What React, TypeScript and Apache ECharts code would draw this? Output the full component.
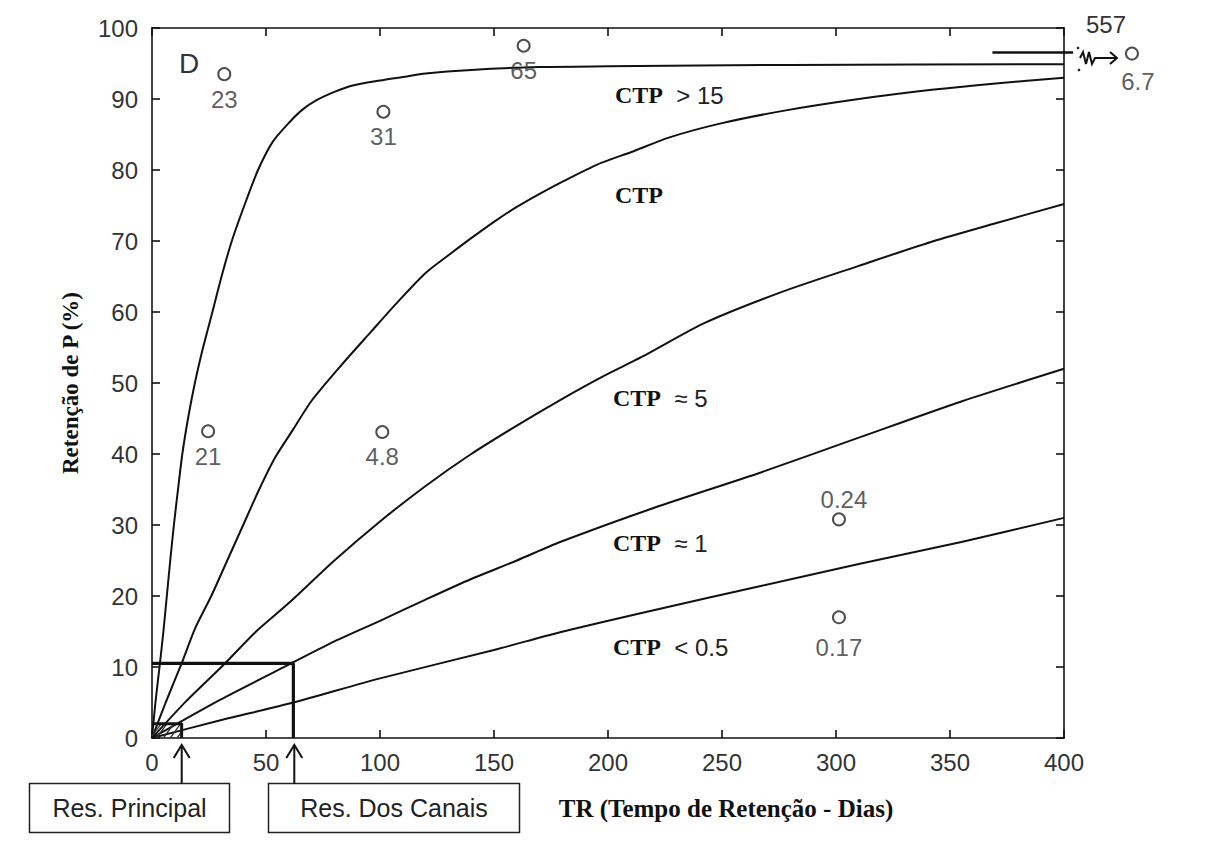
import React, { useEffect, useRef } from "react";
import * as echarts from "echarts";

// ---- Data ----
const xTickValues = [0, 50, 100, 150, 200, 250, 300, 350, 400];
const yTickValues = [0, 10, 20, 30, 40, 50, 60, 70, 80, 90, 100];

const curveCtpGt15 = [
  [0, 0], [1.5, 5], [3.3, 10], [5, 15], [6.5, 20], [8, 25], [9.6, 30], [11.4, 35], [13.3, 40],
  [15.8, 45], [18.8, 50], [22.4, 55], [26.5, 60], [30.5, 65], [35, 70], [40.5, 75], [46.5, 80],
  [53, 84], [60.5, 86.8], [66, 88.5], [72, 89.8], [80, 91], [88, 91.9], [100, 92.6], [110, 93.1],
  [120, 93.6], [140, 94.1], [170, 94.5], [200, 94.6], [280, 94.8], [400, 94.9],
];
const curveCtp = [
  [0, 0], [6, 5], [13, 10.5], [19, 15.5], [26, 20], [33, 25], [40, 30], [47, 35], [54, 39.5],
  [62, 43.5], [70, 47.5], [83, 52.5], [96, 57.2], [108, 61.5], [120, 65.5], [130, 68], [140, 70.4],
  [150, 72.7], [160, 74.8], [172, 77], [184, 79], [197, 81], [210, 82.5], [227, 84.6], [250, 86.6],
  [278, 88.4], [310, 90], [342, 91.3], [370, 92.2], [400, 93],
];
const curveCtp5 = [
  [0, 0], [15, 5.2], [32, 10.5], [45, 14.8], [60, 19], [80, 25], [100, 30.5], [120, 35.5],
  [140, 40], [160, 44], [179, 47.6], [197, 50.8], [215, 53.7], [242, 58.4], [276, 62.8],
  [310, 66.5], [342, 69.9], [370, 72.5], [400, 75.2],
];
const curveCtp1 = [
  [0, 0], [30, 5.4], [61, 10.5], [80, 13.6], [100, 16.5], [120, 19.5], [140, 22.4], [160, 25],
  [179, 27.6], [220, 32.4], [267, 37.4], [310, 42.3], [355, 47.4], [400, 52],
];
const curveCtp05 = [
  [0, 0], [30, 2.5], [62, 5], [100, 8.4], [150, 12.4], [179, 14.9], [220, 18], [267, 21.4],
  [310, 24.5], [355, 27.6], [400, 31],
];

const pointX = [31.7, 101.5, 163, 24.6, 101, 301.3, 301.3, 429.8];
const pointY = [93.5, 88.2, 97.5, 43.2, 43.1, 30.8, 17.0, 96.4];
const pointLabels = ["23", "31", "65", "21", "4.8", "0.24", "0.17", "6.7"];
const pointLabelAbove = [false, false, false, false, false, true, false, false];

// reservoir boxes (x = retention time in days, y = retention %)
const canaisBox = [[0, 10.5], [62, 10.5], [62, 0]];
const principalBox = [[0, 2], [13, 2], [13, 0]];
const principalHatch = [
  [[0, 0.3], [4, 2]], [[2, 0], [6.5, 2]], [[5, 0], [9.5, 2]], [[8, 0], [12.5, 2]], [[11, 0], [13, 0.9]],
];
const arrowLine = [[368.6, 96.6], [404, 96.6]];

const SANS = '"Liberation Sans", Arial, Helvetica, sans-serif';
const SERIF = '"Liberation Serif", "Times New Roman", Times, serif';

export default function App() {
  const ref = useRef<HTMLDivElement>(null);

  useEffect(() => {
    if (!ref.current) return;
    const chart = echarts.init(ref.current, undefined, { renderer: "svg" });

    const axisLineStyle = { color: "#111", width: 1.6 };
    const curveStyle = { color: "#111", width: 2 };

    const curveSeries = (name: string, data: number[][]) => ({
      type: "line",
      name,
      data,
      smooth: 0.25,
      showSymbol: false,
      symbol: "none",
      silent: true,
      lineStyle: curveStyle,
      z: 3,
    });

    const scatterData = pointX.map((x, i) => ({
      value: [x, pointY[i]],
      label: {
        show: true,
        formatter: pointLabels[i],
        position: pointLabelAbove[i] ? "top" : "bottom",
        distance: pointLabelAbove[i] ? 1 : i === 6 ? 11 : i === 7 ? 9 : 6,
        offset: i === 7 ? [6, 0] : i === 5 ? [5, 0] : [0, 0],
        color: "#333",
        fontSize: 24,
        fontFamily: SANS,
      },
    }));

    const ctpLabel = (x: number, y: number, rest: string) => ({
      type: "text",
      x,
      y,
      silent: true,
      style: {
        text: rest ? `{a|CTP}{b|  ${rest}}` : "{a|CTP}",
        verticalAlign: "middle",
        align: "left",
        rich: {
          a: { fontFamily: SERIF, fontWeight: "bold", fontSize: 24, fill: "#111" },
          b: { fontFamily: SANS, fontSize: 24, fill: "#222" },
        },
      },
    });

    const upArrow = (x: number) => ({
      type: "group",
      children: [
        { type: "line", shape: { x1: x, y1: 784, x2: x, y2: 746 }, style: { stroke: "#111", lineWidth: 2 } },
        {
          type: "polyline",
          shape: { points: [[x - 8, 758], [x, 745], [x + 8, 758]] },
          style: { stroke: "#111", lineWidth: 2, fill: null },
        },
      ],
    });

    const option: any = {
      animation: false,
      backgroundColor: "#ffffff",
      grid: { left: 152, right: 151, top: 28, bottom: 129 },
      xAxis: [
        {
          type: "value",
          min: xTickValues[0],
          max: xTickValues[xTickValues.length - 1],
          interval: xTickValues[1] - xTickValues[0],
          axisLine: { show: true, onZero: false, lineStyle: axisLineStyle },
          axisTick: { show: true, inside: true, length: 8, lineStyle: axisLineStyle },
          axisLabel: { color: "#333", fontSize: 24, fontFamily: SANS, margin: 12 },
          splitLine: { show: false },
        },
        {
          type: "value",
          position: "top",
          min: xTickValues[0],
          max: xTickValues[xTickValues.length - 1],
          interval: xTickValues[1] - xTickValues[0],
          axisLine: { show: true, onZero: false, lineStyle: axisLineStyle },
          axisTick: { show: true, inside: true, length: 8, lineStyle: axisLineStyle },
          axisLabel: { show: false },
          splitLine: { show: false },
        },
      ],
      yAxis: [
        {
          type: "value",
          min: yTickValues[0],
          max: yTickValues[yTickValues.length - 1],
          interval: yTickValues[1] - yTickValues[0],
          axisLine: { show: true, onZero: false, lineStyle: axisLineStyle },
          axisTick: { show: true, inside: true, length: 8, lineStyle: axisLineStyle },
          axisLabel: { color: "#333", fontSize: 24, fontFamily: SANS, margin: 14 },
          splitLine: { show: false },
        },
        {
          type: "value",
          position: "right",
          min: yTickValues[0],
          max: yTickValues[yTickValues.length - 1],
          interval: yTickValues[1] - yTickValues[0],
          axisLine: { show: true, onZero: false, lineStyle: axisLineStyle },
          axisTick: { show: true, inside: true, length: 8, lineStyle: axisLineStyle },
          axisLabel: { show: false },
          splitLine: { show: false },
        },
      ],
      series: [
        curveSeries("CTP > 15", curveCtpGt15),
        curveSeries("CTP", curveCtp),
        curveSeries("CTP ≈ 5", curveCtp5),
        curveSeries("CTP ≈ 1", curveCtp1),
        curveSeries("CTP < 0.5", curveCtp05),
        {
          type: "line",
          name: "Res. Dos Canais",
          data: canaisBox,
          showSymbol: false,
          symbol: "none",
          silent: true,
          lineStyle: { color: "#111", width: 3.2 },
          z: 4,
        },
        {
          type: "line",
          name: "Res. Principal",
          data: principalBox,
          showSymbol: false,
          symbol: "none",
          silent: true,
          lineStyle: { color: "#111", width: 3 },
          z: 4,
        },
        {
          type: "lines",
          coordinateSystem: "cartesian2d",
          silent: true,
          data: principalHatch.map((c) => ({ coords: c })),
          lineStyle: { color: "#333", width: 1.3, opacity: 1 },
          z: 4,
        },
        {
          type: "lines",
          coordinateSystem: "cartesian2d",
          silent: true,
          clip: false,
          data: [{ coords: arrowLine }],
          lineStyle: { color: "#111", width: 2.5, opacity: 1 },
          z: 4,
        },
        {
          type: "scatter",
          name: "pontos",
          clip: false,
          symbol: "circle",
          symbolSize: 12,
          silent: true,
          itemStyle: { color: "#ffffff", borderColor: "#222", borderWidth: 2 },
          data: scatterData,
          z: 5,
        },
      ],
      graphic: [
        { type: "text", x: 179, y: 63, silent: true, style: { text: "D", font: `28px ${SANS}`, fill: "#333", verticalAlign: "middle" } },
        ctpLabel(615, 95, "> 15"),
        ctpLabel(615, 195, ""),
        ctpLabel(613, 398, "≈ 5"),
        ctpLabel(613, 543, "≈ 1"),
        ctpLabel(613, 647, "< 0.5"),
        {
          type: "text",
          x: 1106,
          y: 24,
          silent: true,
          style: { text: "557", font: `24px ${SANS}`, fill: "#333", align: "center", verticalAlign: "middle" },
        },
        {
          type: "polyline",
          silent: true,
          shape: { points: [[1080, 58], [1083, 52], [1086, 64], [1089, 52], [1092, 64], [1095, 58], [1117, 58]] },
          style: { stroke: "#111", lineWidth: 2, fill: null },
        },
        {
          type: "polyline",
          silent: true,
          shape: { points: [[1110, 52], [1117, 58], [1110, 64]] },
          style: { stroke: "#111", lineWidth: 2, fill: null },
        },
        { type: "circle", silent: true, shape: { cx: 1078, cy: 48, r: 1.3 }, style: { fill: "#222" } },
        { type: "circle", silent: true, shape: { cx: 1079, cy: 70, r: 1.3 }, style: { fill: "#222" } },
        {
          type: "text",
          x: 70,
          y: 383,
          rotation: Math.PI / 2,
          silent: true,
          style: {
            text: "Retenção de P (%)",
            font: `bold 23px ${SERIF}`,
            fill: "#111",
            align: "center",
            verticalAlign: "middle",
          },
        },
        {
          type: "text",
          x: 726,
          y: 808,
          silent: true,
          style: {
            text: "TR (Tempo de Retenção - Dias)",
            font: `bold 25px ${SERIF}`,
            fill: "#111",
            align: "center",
            verticalAlign: "middle",
          },
        },
        {
          type: "rect",
          silent: true,
          shape: { x: 29.5, y: 783.5, width: 200, height: 49 },
          style: { fill: "#fff", stroke: "#222", lineWidth: 1.5 },
        },
        {
          type: "text",
          x: 129.5,
          y: 808,
          silent: true,
          style: { text: "Res. Principal", font: `25px ${SANS}`, fill: "#222", align: "center", verticalAlign: "middle" },
        },
        {
          type: "rect",
          silent: true,
          shape: { x: 268.5, y: 783.5, width: 251, height: 49 },
          style: { fill: "#fff", stroke: "#222", lineWidth: 1.5 },
        },
        {
          type: "text",
          x: 394,
          y: 808,
          silent: true,
          style: { text: "Res. Dos Canais", font: `25px ${SANS}`, fill: "#222", align: "center", verticalAlign: "middle" },
        },
        upArrow(181.7),
        upArrow(294.3),
      ],
    };

    chart.setOption(option);
    return () => chart.dispose();
  }, []);

  return (
    <div
      ref={ref}
      style={{ position: "absolute", left: 0, top: 0, width: 1215, height: 867, background: "#fff" }}
    />
  );
}
